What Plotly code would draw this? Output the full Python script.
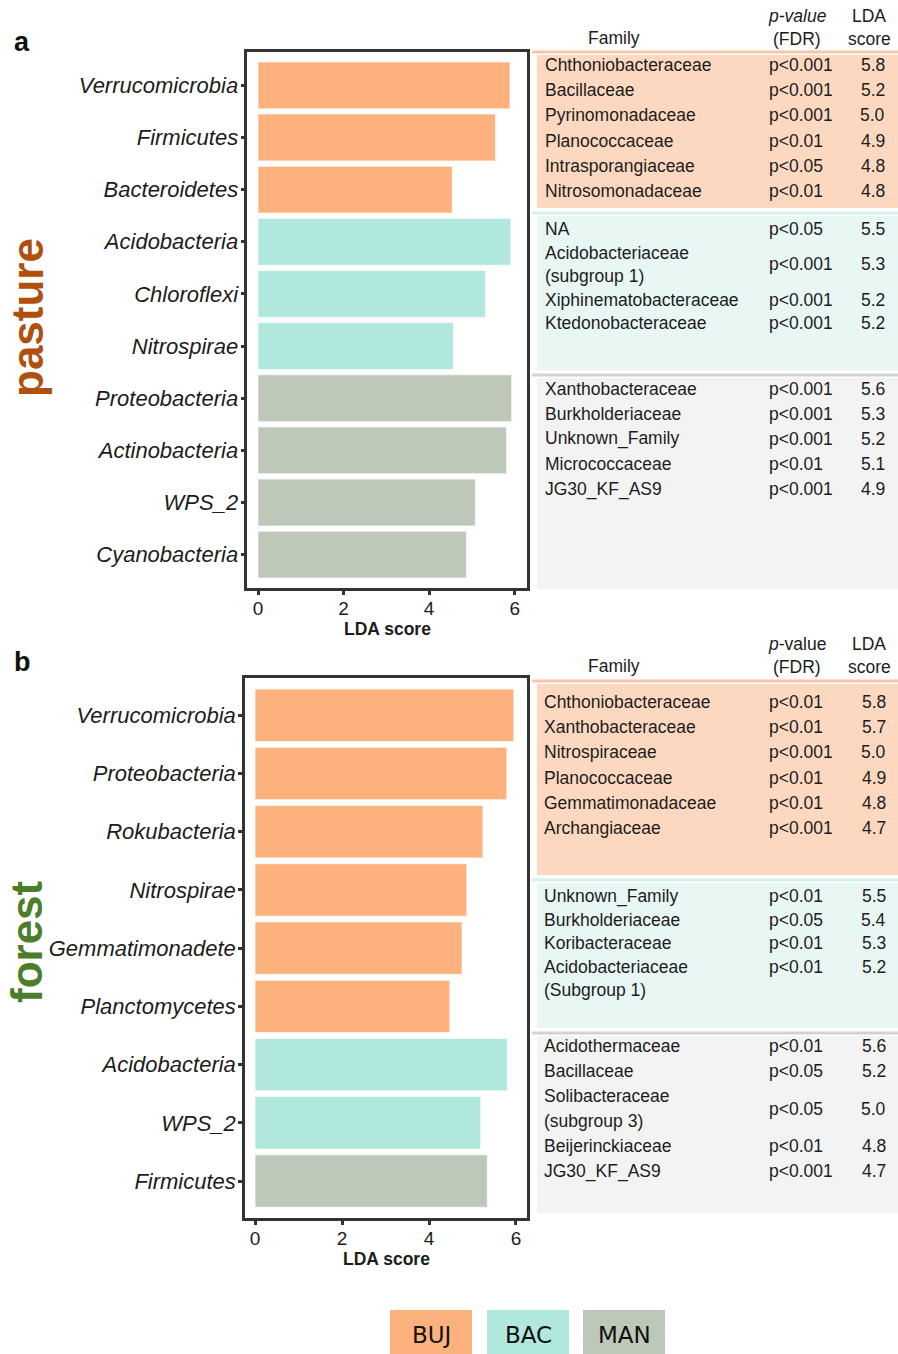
import plotly.graph_objects as go

W, H = 898, 1354

# ---------------- data ----------------
groups = ["BUJ", "BAC", "MAN"]
group_colors = {"BUJ": "#FDB27E", "BAC": "#B0E8DE", "MAN": "#BEC8B8"}

pasture_phyla = ["Verrucomicrobia", "Firmicutes", "Bacteroidetes", "Acidobacteria",
                 "Chloroflexi", "Nitrospirae", "Proteobacteria", "Actinobacteria",
                 "WPS_2", "Cyanobacteria"]
pasture_lda = [5.89, 5.55, 4.54, 5.91, 5.32, 4.57, 5.93, 5.81, 5.08, 4.87]
pasture_group = ["BUJ", "BUJ", "BUJ", "BAC", "BAC", "BAC", "MAN", "MAN", "MAN", "MAN"]

forest_phyla = ["Verrucomicrobia", "Proteobacteria", "Rokubacteria", "Nitrospirae",
                "Gemmatimonadete", "Planctomycetes", "Acidobacteria", "WPS_2", "Firmicutes"]
forest_lda = [5.95, 5.79, 5.24, 4.87, 4.76, 4.48, 5.80, 5.19, 5.34]
forest_group = ["BUJ", "BUJ", "BUJ", "BUJ", "BUJ", "BUJ", "BAC", "BAC", "MAN"]

# family tables (family, p-value, LDA score) per group
pasture_buj_family = ["Chthoniobacteraceae", "Bacillaceae", "Pyrinomonadaceae",
                      "Planococcaceae", "Intrasporangiaceae", "Nitrosomonadaceae"]
pasture_buj_p = ["p<0.001", "p<0.001", "p<0.001", "p<0.01", "p<0.05", "p<0.01"]
pasture_buj_score = ["5.8", "5.2", "5.0", "4.9", "4.8", "4.8"]

pasture_bac_family = ["NA", "Acidobacteriaceae\n(subgroup 1)", "Xiphinematobacteraceae",
                      "Ktedonobacteraceae"]
pasture_bac_p = ["p<0.05", "p<0.001", "p<0.001", "p<0.001"]
pasture_bac_score = ["5.5", "5.3", "5.2", "5.2"]

pasture_man_family = ["Xanthobacteraceae", "Burkholderiaceae", "Unknown_Family",
                      "Micrococcaceae", "JG30_KF_AS9"]
pasture_man_p = ["p<0.001", "p<0.001", "p<0.001", "p<0.01", "p<0.001"]
pasture_man_score = ["5.6", "5.3", "5.2", "5.1", "4.9"]

forest_buj_family = ["Chthoniobacteraceae", "Xanthobacteraceae", "Nitrospiraceae",
                     "Planococcaceae", "Gemmatimonadaceae", "Archangiaceae"]
forest_buj_p = ["p<0.01", "p<0.01", "p<0.001", "p<0.01", "p<0.01", "p<0.001"]
forest_buj_score = ["5.8", "5.7", "5.0", "4.9", "4.8", "4.7"]

forest_bac_family = ["Unknown_Family", "Burkholderiaceae", "Koribacteraceae",
                     "Acidobacteriaceae\n(Subgroup 1)"]
forest_bac_p = ["p<0.01", "p<0.05", "p<0.01", "p<0.01"]
forest_bac_score = ["5.5", "5.4", "5.3", "5.2"]

forest_man_family = ["Acidothermaceae", "Bacillaceae", "Solibacteraceae\n(subgroup 3)",
                     "Beijerinckiaceae", "JG30_KF_AS9"]
forest_man_p = ["p<0.01", "p<0.05", "p<0.05", "p<0.01", "p<0.001"]
forest_man_score = ["5.6", "5.2", "5.0", "4.8", "4.7"]

# ---------------- styling ----------------
FONT = "Liberation Sans, Arial, Helvetica, sans-serif"
TXT = "#1c1c1c"
band_fill = {"BUJ": "#FDD8C0", "BAC": "#E8F7F4", "MAN": "#F3F3F3"}
band_line = {"BUJ": "#F7C6A8", "BAC": "#D6F0EB", "MAN": "#D2D2D2"}


def px(x):
    return x / W


def py(y):
    return 1 - y / H


fig = go.Figure()


def add_text(x, y, s, size=17.5, anchor="left", color=TXT, family=FONT, **kw):
    fig.add_annotation(x=px(x), y=py(y), xref="paper", yref="paper", text=s,
                       showarrow=False, xanchor=anchor, yanchor="middle",
                       font=dict(size=size, family=family, color=color), **kw)


def add_rect(x0, y0, x1, y1, fill):
    fig.add_shape(type="rect", xref="paper", yref="paper",
                  x0=px(x0), x1=px(x1), y0=py(y1), y1=py(y0),
                  fillcolor=fill, line=dict(width=0), layer="below")


# ---------------- bar panels ----------------
def bar_panel(phyla, lda, grp, xa, ya, box, xrange):
    left, top, right, bottom = box
    n = len(phyla)
    fig.add_trace(go.Bar(
        x=lda, y=phyla, orientation="h", width=0.9,
        marker=dict(color=[group_colors[g] for g in grp],
                    line=dict(color="rgba(255,255,255,0.7)", width=1)),
        xaxis=xa, yaxis=ya, showlegend=False, hoverinfo="x+y"))
    axis_common = dict(showline=True, linecolor="#333333", linewidth=2.5, mirror=True,
                       showgrid=False, zeroline=False, ticks="outside",
                       tickcolor="#333333", tickwidth=3, ticklen=4)
    xkey = "xaxis" if xa == "x" else "xaxis" + xa[1:]
    ykey = "yaxis" if ya == "y" else "yaxis" + ya[1:]
    fig.update_layout({
        xkey: dict(domain=[px(left), px(right)], range=xrange, anchor=ya,
                   tickvals=[0, 2, 4, 6], ticktext=["0", "2", "4", "6"],
                   ticklabelstandoff=-3,
                   tickfont=dict(size=19, family=FONT, color=TXT), **axis_common),
        ykey: dict(domain=[py(bottom), py(top)], anchor=xa, type="category",
                   categoryorder="array", categoryarray=phyla,
                   range=[n - 1 + 0.64, -0.64], ticklabelstandoff=-2,
                   tickvals=phyla, ticktext=[f"<i>{p}</i>" for p in phyla],
                   tickfont=dict(size=22, family=FONT, color=TXT), **axis_common),
    })
    add_text((left + right) / 2 + 0.5, bottom + 41, "<b>LDA score</b>", size=17.5,
             anchor="center")


bar_panel(pasture_phyla, pasture_lda, pasture_group, "x", "y",
          (247.3, 52, 526.7, 588), [-0.25, 6.28])
bar_panel(forest_phyla, forest_lda, forest_group, "x2", "y2",
          (245, 678, 527.3, 1218.3), [-0.23, 6.26])


# ---------------- family tables ----------------
def table_block(families, pvals, scores, grp, band, first_y, pitch,
                fam_x, p_x, s_x, stats_on_first_line=False):
    y_top, y_bot = band
    fig.add_shape(type="line", xref="paper", yref="paper",
                  x0=px(532), x1=px(898), y0=py(y_top - 3), y1=py(y_top - 3),
                  line=dict(color=band_line[grp], width=3), layer="below")
    add_rect(537, y_top, 898, y_bot, band_fill[grp])
    y = first_y
    for fam, p, s in zip(families, pvals, scores):
        lines = fam.split("\n")
        ys = [y + i * pitch for i in range(len(lines))]
        for ln, yy in zip(lines, ys):
            add_text(fam_x, yy, ln)
        ys_stat = ys[0] if stats_on_first_line else sum(ys) / len(ys)
        add_text(p_x, ys_stat, p)
        add_text(s_x, ys_stat, s, anchor="right")
        y += pitch * len(lines)


def table_header(y1, y2, pv_label):
    add_text(614, y2 - 1, "Family", anchor="center")
    add_text(797, y1, pv_label, anchor="center")
    add_text(797, y2, "(FDR)", anchor="center")
    add_text(869, y1, "LDA", anchor="center")
    add_text(869, y2, "score", anchor="center")


table_header(16, 39, "<i>p-value</i>")
table_block(pasture_buj_family, pasture_buj_p, pasture_buj_score, "BUJ",
            (55, 208), 65, 25.2, 543, 767, 887)
table_block(pasture_bac_family, pasture_bac_p, pasture_bac_score, "BAC",
            (216, 370), 229, 23.5, 543, 767, 887)
table_block(pasture_man_family, pasture_man_p, pasture_man_score, "MAN",
            (378, 589), 389, 25, 543, 767, 887)

table_header(644, 667, "<i>p</i>-value")
table_block(forest_buj_family, forest_buj_p, forest_buj_score, "BUJ",
            (684, 875), 702, 25.2, 542, 767, 888)
table_block(forest_bac_family, forest_bac_p, forest_bac_score, "BAC",
            (883, 1028), 896, 23.5, 542, 767, 888, stats_on_first_line=True)
table_block(forest_man_family, forest_man_p, forest_man_score, "MAN",
            (1036, 1213), 1046, 25, 542, 767, 888)

# ---------------- panel labels ----------------
add_text(22, 42, "<b>a</b>", size=27, anchor="center", color="#111111")
add_text(22, 662, "<b>b</b>", size=27, anchor="center", color="#111111")
add_text(27, 318, "<b>pasture</b>", size=44, anchor="center", color="#B0500F",
         textangle=-90)
add_text(26, 942, "<b>forest</b>", size=44, anchor="center", color="#4C7D2A",
         textangle=-90)

# ---------------- group legend ----------------
legend_boxes = [(390, 472), (487, 569), (583, 665)]
for g, (x0, x1) in zip(groups, legend_boxes):
    add_rect(x0, 1310, x1, 1354, group_colors[g])
    add_text((x0 + x1) / 2, 1335, g, size=23, anchor="center", color="#111111",
             family="DejaVu Sans, sans-serif")

fig.update_layout(width=W, height=H, margin=dict(l=0, r=0, t=0, b=0),
                  paper_bgcolor="white", plot_bgcolor="white", bargap=0.1)

fig.write_html("out.html")
